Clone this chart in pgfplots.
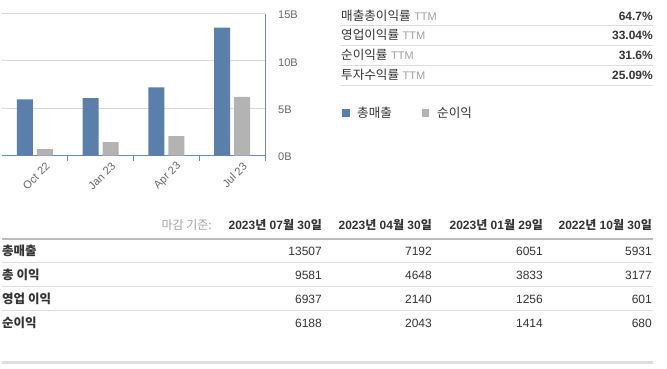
\documentclass[border=0pt]{standalone}
\usepackage{pgfplots}
\pgfplotsset{compat=1.18}
\usepackage{fontspec}
\setmainfont{Liberation Sans}
\newfontfamily\kr{Noto Sans CJK KR}
\newcommand\K[1]{{\kr #1}}
\definecolor{barblue}{HTML}{5B7FAB}
\definecolor{bargray}{HTML}{B3B3B3}
\definecolor{axisblue}{HTML}{6B8CB8}
\definecolor{gridgray}{HTML}{D8D8D8}
\definecolor{txt}{HTML}{333333}
\definecolor{lbl}{HTML}{666666}
\definecolor{ttm}{HTML}{A0A0A0}
\definecolor{rule}{HTML}{DDDDDD}
\definecolor{hrule}{HTML}{BBBBBB}
\newcommand\fs[1]{\fontsize{#1}{#1}\selectfont}
\begin{document}
\begin{tikzpicture}
\useasboundingbox (0pt,0pt) rectangle (667pt,-369pt);
\begin{axis}[
  at={(2pt,-155.5pt)}, anchor=south west,
  scale only axis, width=263pt, height=142pt,
  xmin=-0.5, xmax=3.5, ymin=0, ymax=15000,
  axis x line*=bottom, axis y line*=right,
  axis line style={color=axisblue, line width=0.8pt, -},
  scaled y ticks=false,
  ytick={0,5000,10000,15000}, yticklabels={0B,5B,10B,15B},
  ymajorgrids, grid style={color=gridgray, line width=0.8pt},
  major tick length=0pt,
  yticklabel style={font=\fs{11}, color=lbl, anchor=west, inner sep=0pt, xshift=13pt, yshift=-1.5pt},
  xtick={0,1,2,3}, xticklabels={Oct 22,Jan 23,Apr 23,Jul 23},
  xticklabel style={font=\fs{11}, color=lbl, inner sep=0pt, xshift=13pt, yshift=-9pt, rotate=45, anchor=east},
  minor xtick={0.5,1.5,2.5,3.5},
  minor tick length=5pt, tick align=outside,
  minor tick style={color=axisblue, line width=0.8pt},
  ybar, bar width=16pt,
  clip=false,
]
\addplot[fill=barblue, draw=none, bar shift=-10pt] coordinates {(0,5931) (1,6051) (2,7192) (3,13507)};
\addplot[fill=bargray, draw=none, bar shift=10pt] coordinates {(0,680) (1,1414) (2,2043) (3,6188)};
\end{axis}
\begin{scope}[x=1pt,y=-1pt]
  % top right ratio table
  \foreach \lab/\val/\yy in {매출총이익률/64.7\%/20.2, 영업이익률/33.04\%/40, 순이익률/31.6\%/59.8, 투자수익률/25.09\%/79.6}{
    \node[anchor=base west, inner sep=0pt, text=txt] at (341,\yy) {\fs{12.6}\K{\lab} {\fs{11}\color{ttm}TTM}};
    \node[anchor=base east, inner sep=0pt, text=txt] at (653,\yy) {\fs{12}\bfseries \val};
  }
  \foreach \yy in {26,46,66,86}{\draw[rule, line width=1pt] (341,\yy) -- (653,\yy);}
  % legend
  \fill[barblue] (342.3,109.3) rectangle (349.5,116.6);
  \node[anchor=base west, inner sep=0pt, text=txt] at (357,117.5) {\fs{12.6}\K{총매출}};
  \fill[bargray] (421.8,109.3) rectangle (429,116.6);
  \node[anchor=base west, inner sep=0pt, text=txt] at (437,117.5) {\fs{12.6}\K{순이익}};
  % bottom table
  \node[anchor=base east, inner sep=0pt, text=ttm] at (212,229.5) {\fs{12}\K{마감 기준:}};
  \node[anchor=base east, inner sep=0pt, text=txt] at (322,229.5) {\fs{12}\bfseries 2023\K{년} 07\K{월} 30\K{일}};
  \node[anchor=base east, inner sep=0pt, text=txt] at (432,229.5) {\fs{12}\bfseries 2023\K{년} 04\K{월} 30\K{일}};
  \node[anchor=base east, inner sep=0pt, text=txt] at (543,229.5) {\fs{12}\bfseries 2023\K{년} 01\K{월} 29\K{일}};
  \node[anchor=base east, inner sep=0pt, text=txt] at (652,229.5) {\fs{12}\bfseries 2022\K{년} 10\K{월} 30\K{일}};
  \draw[hrule, line width=2.5pt] (2,239) -- (653,239);
  \foreach \lab/\a/\b/\c/\d/\yy in {총매출/13507/7192/6051/5931/255.5, 총 이익/9581/4648/3833/3177/279.5, 영업 이익/6937/2140/1256/601/303.5, 순이익/6188/2043/1414/680/327.5}{
    \node[anchor=base west, inner sep=0pt, text=txt] at (2,\yy) {\fs{12.5}\bfseries\K{\lab}};
    \node[anchor=base east, inner sep=0pt, text=txt] at (322,\yy) {\fs{12}\a};
    \node[anchor=base east, inner sep=0pt, text=txt] at (432,\yy) {\fs{12}\b};
    \node[anchor=base east, inner sep=0pt, text=txt] at (543,\yy) {\fs{12}\c};
    \node[anchor=base east, inner sep=0pt, text=txt] at (652,\yy) {\fs{12}\d};
  }
  \foreach \yy in {262,286,310}{\draw[rule, line width=1pt] (2,\yy) -- (653,\yy);}
  \draw[rule, line width=3pt] (2,362) -- (653,362);
\end{scope}
\end{tikzpicture}
\end{document}
